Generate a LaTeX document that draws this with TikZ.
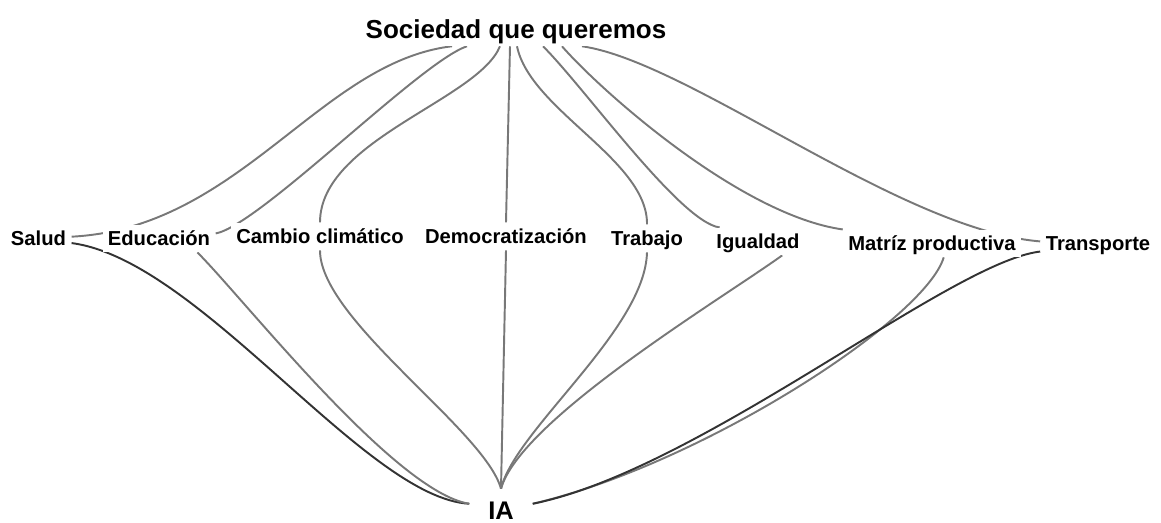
\documentclass[tikz,border=0pt]{standalone}
\usepackage{fontspec}
\setmainfont{Liberation Sans}
\usetikzlibrary{calc,backgrounds}
\begin{document}
\begin{tikzpicture}[x=0.02cm,y=-0.02cm,
  tema/.style={anchor=base,fill=white,font=\bfseries\fontsize{11.5}{14}\selectfont,text height=10pt,text depth=2.5pt,inner xsep=3pt,inner ysep=1.5pt},
  raiz/.style={anchor=base,fill=white,font=\bfseries\fontsize{14.8}{18}\selectfont,text height=11pt,text depth=3pt,inner xsep=3pt,inner ysep=1.5pt},
  rama/.style={draw=black!53,line width=1.1pt},
  fuerte/.style={draw=black!80,line width=1.1pt}]
\useasboundingbox (0,0) rectangle (1161,522);
\node[raiz] (soc) at (516,38) {Sociedad que queremos};
\node[tema] (sal) at (38.5,245) {Salud};
\node[tema] (edu) at (159,245) {Educación};
\node[tema] (cam) at (320,243) {Cambio climático};
\node[tema] (dem) at (506,243) {Democratización};
\node[tema] (tra) at (647,245) {Trabajo};
\node[tema] (igu) at (758,248) {Igualdad};
\node[tema] (mat) at (932,250) {Matríz productiva};
\node[tema] (tsp) at (1098,250) {Transporte};
\node[raiz,font=\bfseries\fontsize{14.5}{18}\selectfont,text depth=0pt,inner xsep=10.6pt,inner ysep=6pt] (ia) at (501,519) {IA};
\begin{scope}[on background layer]
\draw[rama] ($(soc.south)+(-64,0)$) .. controls (320,62) and (240,228) .. (sal.3);
\draw[rama] ($(soc.south)+(-49,0)$) .. controls (420,62) and (260,225) .. (edu.5);
\draw[rama] ($(soc.south)+(-16,0)$) .. controls (478,100) and (320,140) .. (cam.north);
\draw[rama] ($(soc.south)+(-6,0)$) -- (dem.north);
\draw[rama] ($(soc.south)+(1,0)$) .. controls (530,110) and (648,160) .. (tra.north);
\draw[rama] ($(soc.south)+(27,0)$) .. controls (585,88) and (680,222) .. (igu.160);
\draw[rama] ($(soc.south)+(46,0)$) .. controls (600,90) and (740,215) .. (mat.north west);
\draw[rama] ($(soc.south)+(66,0)$) .. controls (690,62) and (900,230) .. (tsp.178);
\draw[fuerte] (sal.-8) .. controls (200,260) and (365,498) .. (ia.170);
\draw[rama] (edu.-20) .. controls (245,300) and (395,492) .. (ia.170);
\draw[rama] (cam.south) .. controls (320,320) and (485,430) .. (ia.north);
\draw[rama] (dem.south) -- (ia.north);
\draw[rama] (tra.south) .. controls (645,330) and (515,430) .. (ia.north);
\draw[rama] (igu.-30) .. controls (720,300) and (520,420) .. (ia.north);
\draw[rama] (mat.-50) .. controls (925,320) and (700,465) .. (ia.10);
\draw[fuerte] (tsp.188) .. controls (950,262) and (700,470) .. (ia.10);
\end{scope}
\end{tikzpicture}
\end{document}
